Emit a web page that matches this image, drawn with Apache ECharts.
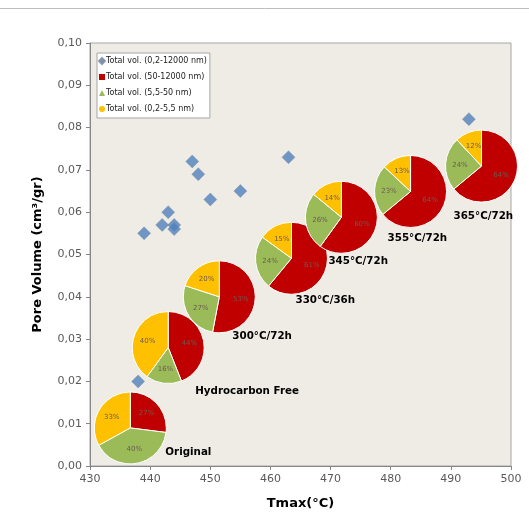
<!DOCTYPE html>
<html>
<head>
<meta charset="utf-8">
<script src="https://cdn.jsdelivr.net/npm/echarts@6/dist/echarts.min.js"></script>
<style>
html,body{margin:0;padding:0;background:#fff;}
#c{width:529px;height:524px;}
</style>
</head>
<body>
<div id="c"></div>
<script>
// ---- data ----
const xTicks = [430, 440, 450, 460, 470, 480, 490, 500];
const yTicks = [0, 0.01, 0.02, 0.03, 0.04, 0.05, 0.06, 0.07, 0.08, 0.09, 0.10];

const ptTmax = [438, 439, 442, 443, 444, 444, 447, 448, 450, 455, 463, 493];
const ptPV   = [0.020, 0.055, 0.057, 0.060, 0.057, 0.056, 0.072, 0.069, 0.063, 0.065, 0.073, 0.082];

const pieNames = ['Original', 'Hydrocarbon Free', '300°C/72h', '330°C/36h', '345°C/72h', '355°C/72h', '365°C/72h'];
const pieTmax  = [436.7, 443.0, 451.5, 463.5, 471.8, 483.3, 495.1];
const piePV    = [0.0090, 0.0280, 0.0400, 0.0491, 0.0588, 0.0649, 0.0709];
const macro = [27, 44, 53, 61, 60, 64, 64];   // 50-12000 nm
const meso  = [40, 16, 27, 24, 26, 23, 24];   // 5,5-50 nm
const micro = [33, 40, 20, 15, 14, 13, 12];   // 0,2-5,5 nm

const seriesNames = ['Total vol. (0,2-12000 nm)', 'Total vol. (50-12000 nm)', 'Total vol. (5,5-50 nm)', 'Total vol. (0,2-5,5 nm)'];

// ---- layout / style ----
const PIE_R = 36;
const labelOffsets = [[35, 24], [27, 44], [13, 40], [4, 42], [-13, 44], [-23, 47], [-28, 50]];
const colors = ['#4F81BD', '#C00000', '#9BBB59', '#FFC000'];

const fracs = [macro, meso, micro];

function sectorSeries(k) {
  const data = pieTmax.map((t, i) => {
    let start = 0;
    for (let j = 0; j < k; j++) start += fracs[j][i];
    return [t, piePV[i], start, fracs[k][i]];
  });
  return {
    type: 'custom',
    name: seriesNames[k + 1],
    itemStyle: { color: colors[k + 1] },
    z: 3,
    data: data,
    renderItem: function (params, api) {
      const c = api.coord([api.value(0), api.value(1)]);
      const s = api.value(2) / 100, f = api.value(3) / 100;
      const a0 = -Math.PI / 2 + s * 2 * Math.PI;
      const a1 = a0 + f * 2 * Math.PI;
      const mid = (a0 + a1) / 2;
      return {
        type: 'group',
        children: [{
          type: 'sector',
          shape: { cx: c[0], cy: c[1], r: PIE_R, r0: 0, startAngle: a0, endAngle: a1, clockwise: true },
          style: { fill: colors[k + 1], stroke: '#fff', lineWidth: 1 }
        }, {
          type: 'text',
          x: c[0] + Math.cos(mid) * PIE_R * 0.6,
          y: c[1] + Math.sin(mid) * PIE_R * 0.6,
          style: {
            text: Math.round(f * 100) + '%',
            fill: '#6b5a55',
            font: '7px "DejaVu Sans", sans-serif',
            align: 'center',
            verticalAlign: 'middle'
          }
        }]
      };
    }
  };
}

const nameSeries = {
  type: 'custom',
  name: 'labels',
  z: 4,
  data: pieTmax.map((t, i) => [t, piePV[i], i]),
  renderItem: function (params, api) {
    const c = api.coord([api.value(0), api.value(1)]);
    const i = api.value(2);
    const off = labelOffsets[i];
    return {
      type: 'text',
      x: c[0] + off[0],
      y: c[1] + off[1],
      style: {
        text: pieNames[i],
        fill: '#000',
        font: 'bold 10.3px "DejaVu Sans", sans-serif',
        align: 'left',
        verticalAlign: 'middle'
      }
    };
  }
};

const chart = echarts.init(document.getElementById('c'));
chart.setOption({
  animation: false,
  backgroundColor: '#fff',
  grid: {
    left: 90, right: 18, top: 43, bottom: 58,
    show: true, backgroundColor: '#EEECE4', borderColor: '#A6A6A6', borderWidth: 1
  },
  legend: {
    orient: 'vertical',
    left: 97, top: 53,
    backgroundColor: '#fff',
    borderColor: '#A6A6A6', borderWidth: 1,
    padding: [3, 3, 4, 1],
    itemGap: 6,
    itemWidth: 6, itemHeight: 6,
    textStyle: { fontSize: 8, color: '#222', fontFamily: '"DejaVu Sans", sans-serif', lineHeight: 10, padding: [0, 0, 0, -4] },
    data: [
      { name: seriesNames[0], icon: 'diamond' },
      { name: seriesNames[1], icon: 'rect' },
      { name: seriesNames[2], icon: 'triangle' },
      { name: seriesNames[3], icon: 'circle' }
    ]
  },
  xAxis: {
    type: 'value',
    min: xTicks[0], max: xTicks[xTicks.length - 1], interval: 10,
    name: 'Tmax(°C)', nameLocation: 'middle', nameGap: 31,
    nameTextStyle: { fontWeight: 'bold', fontSize: 13, color: '#000', fontFamily: '"DejaVu Sans", sans-serif' },
    axisLine: { lineStyle: { color: '#868686' } },
    axisTick: { show: true, length: 4, lineStyle: { color: '#868686' } },
    axisLabel: { color: '#595959', fontSize: 11, margin: 8, fontFamily: '"DejaVu Sans", sans-serif' },
    splitLine: { show: false }
  },
  yAxis: {
    type: 'value',
    min: yTicks[0], max: yTicks[yTicks.length - 1], interval: 0.01,
    name: 'Pore Volume (cm³/gr)', nameLocation: 'middle', nameGap: 46, nameRotate: 90,
    nameTextStyle: { fontWeight: 'bold', fontSize: 13, color: '#000', fontFamily: '"DejaVu Sans", sans-serif' },
    axisLine: { show: true, lineStyle: { color: '#868686' } },
    axisTick: { show: true, length: 4, lineStyle: { color: '#868686' } },
    axisLabel: {
      color: '#595959', fontSize: 11, margin: 8, fontFamily: '"DejaVu Sans", sans-serif',
      formatter: v => v.toFixed(2).replace('.', ',')
    },
    splitLine: { show: false }
  },
  graphic: [{
    type: 'line', shape: { x1: 0, y1: 8.5, x2: 529, y2: 8.5 },
    style: { stroke: '#BDBDBD', lineWidth: 1 }, silent: true
  }],
  series: [
    {
      type: 'scatter',
      name: seriesNames[0],
      symbol: 'diamond',
      symbolSize: 13,
      z: 2,
      itemStyle: { color: colors[0], borderColor: '#7f8a99', borderWidth: 0.5 },
      data: ptTmax.map((t, i) => [t, ptPV[i]])
    },
    sectorSeries(0),
    sectorSeries(1),
    sectorSeries(2),
    nameSeries
  ]
});
</script>
</body>
</html>
